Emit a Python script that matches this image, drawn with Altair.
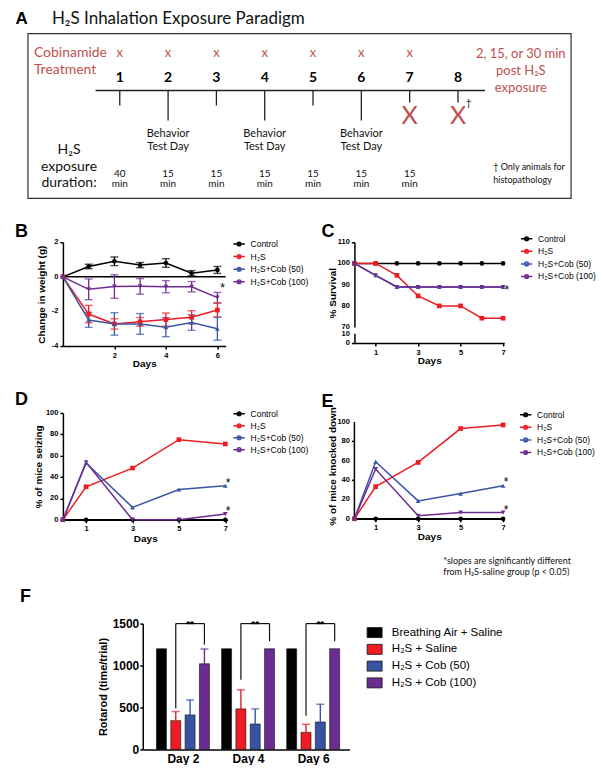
import altair as alt
import pandas as pd

# ---------------- shared series ----------------
SERIES = ["Control", "H₂S", "H₂S+Cob (50)", "H₂S+Cob (100)"]
SERIES_COLORS = ["#000000", "#ec1c24", "#3b55a5", "#6e2c90"]
SERIES_SHAPES = ["circle", "square", "triangle-up", "triangle-down"]

# ---------------- panel A (diagram) ----------------
A_TITLE = "H₂S Inhalation Exposure Paradigm"
A_DAYS = [1, 2, 3, 4, 5, 6, 7, 8]
A_COB_DAYS = [1, 2, 3, 4, 5, 6, 7]
A_BEHAVIOR_DAYS = [2, 4, 6]
A_END_DAYS = [7, 8]
A_DUR_DAYS = [1, 2, 3, 4, 5, 6, 7]
A_DURATIONS = ["40", "15", "15", "15", "15", "15", "15"]
A_LEFT_RED = ["Cobinamide", "Treatment"]
A_LEFT_BLACK = ["H₂S", "exposure", "duration:"]
A_RIGHT_RED = ["2, 15, or 30 min", "post H₂S", "exposure"]
A_NOTE = ["† Only animals for", "histopathology"]

# ---------------- panel B (weight change) ----------------
B_DAYS = [0, 1, 2, 3, 4, 5, 6]
B_CONTROL = [0, 0.60, 0.90, 0.68, 0.80, 0.21, 0.40]
B_CONTROL_ERR = [0, 0.13, 0.25, 0.15, 0.25, 0.15, 0.20]
B_H2S = [0, -2.15, -2.72, -2.60, -2.47, -2.34, -1.92]
B_H2S_ERR = [0, 0.50, 0.30, 0.25, 0.38, 0.38, 0.40]
B_COB50 = [0, -2.49, -2.72, -2.72, -2.91, -2.64, -3.00]
B_COB50_ERR = [0, 0.43, 0.65, 0.60, 0.55, 0.45, 0.66]
B_COB100 = [0, -0.72, -0.56, -0.55, -0.57, -0.57, -1.20]
B_COB100_ERR = [0, 0.60, 0.68, 0.45, 0.35, 0.30, 0.30]
B_STAR = [(6.2, -0.65)]

# ---------------- panel C (survival) ----------------
C_DAYS = [0, 1, 2, 3, 4, 5, 6, 7]
C_CONTROL = [100, 100, 100, 100, 100, 100, 100, 100]
C_H2S = [100, 100, 94.4, 84.7, 80, 80, 74.2, 74.2]
C_COB50 = [100, 94.4, 88.9, 88.9, 88.9, 88.9, 88.9, 88.9]
C_COB100 = [100, 94.4, 88.9, 88.9, 88.9, 88.9, 88.9, 88.9]
C_STAR = [(7.18, 87.5)]

# ---------------- panel D (seizing) ----------------
D_DAYS = [0, 1, 3, 5, 7]
D_CONTROL = [0, 0, 0, 0, 0]
D_H2S = [0, 30.9, 48.4, 75.0, 71.0]
D_COB50 = [0, 53.1, 11.6, 28.4, 31.9]
D_COB100 = [0, 53.8, 0, 0, 5.3]
D_STAR = [(7.12, 34.6), (7.12, 8.4)]

# ---------------- panel E (knocked down) ----------------
E_DAYS = [0, 1, 3, 5, 7]
E_CONTROL = [0, 0, 0, 0, 0]
E_H2S = [0, 33.2, 58.2, 93.2, 96.9]
E_COB50 = [0, 58.9, 18.5, 26.0, 34.2]
E_COB100 = [0, 51.4, 3.1, 6.5, 6.5]
E_STAR = [(7.14, 38.0), (7.14, 9.3)]
E_NOTE = ["*slopes are significantly  different", "from H₂S-saline group (p < 0.05)"]

# ---------------- panel F (rotarod) ----------------
F_DAY_LABELS = ["Day 2", "Day 4", "Day 6"]
F_GROUPS = ["Breathing Air + Saline", "H₂S + Saline", "H₂S + Cob (50)", "H₂S + Cob (100)"]
F_COLORS = ["#000000", "#ee1c25", "#3853a4", "#6b2c91"]
F_AIR = [1200, 1200, 1200]
F_AIR_TOP = [1200, 1200, 1200]
F_SALINE = [343, 483, 203]
F_SALINE_TOP = [451, 710, 299]
F_COB50 = [411, 303, 327]
F_COB50_TOP = [590, 483, 538]
F_COB100 = [1021, 1200, 1200]
F_COB100_TOP = [1197, 1200, 1200]
F_BRACKET_TOP = [1500, 1500, 1500]
F_BRACKET_LEFT_END = [490, 830, 400]
F_BRACKET_RIGHT_END = [1250, 1290, 1290]
F_SIG = ["**", "**", "**"]

# =====================================================================
LINE_SYMBOL = "M-1,0H1M-0.32,0A0.32,0.32,0,1,0,0.32,0A0.32,0.32,0,1,0,-0.32,0"
AXIS_FONT = "Liberation Sans"
DIAG_FONT = "Lato"
RED_A = "#c0504d"
ONE = pd.DataFrame({"k": [0]})
CODES = [0, 1, 2, 3]   # marker / error-bar keys (kept apart from the legend's domain)

# grid columns (page-pixel widths): gutter, left panel, gap, right panel
COL0, COL1, COL2, COL3 = 35, 165, 127, 150


def letter(txt, dx, dy):
    return alt.Chart(ONE).mark_text(
        text=txt, align="left", baseline="middle", font=AXIS_FONT,
        fontWeight="bold", fontSize=18, color="#000"
    ).encode(x=alt.value(dx), y=alt.value(dy))


def spacer(w, h):
    return alt.Chart(ONE).mark_point(opacity=0).properties(width=w, height=h)


# ---------------- panel A ----------------
A_W, A_H = 544, 165
A_XDOM = [-0.9, 10.34]
A_YDOM = [0, 165]
ROW = dict(title=-15, cob=19, day=44, line=57, short=72, long=87, end=69,
           bigx=83, dag=70, beh1=101, beh2=114, lab1=117, lab2=134, lab3=150,
           dur1=141, dur2=151, r1=20, r2=37, r3=54, n1=134, n2=147)
LEFT_RED_COL = -0.777
LEFT_COL = -0.05
RIGHT_COL = 9.3
NOTE_COL = 8.73


def A_enc():
    return dict(
        x=alt.X("x:Q", scale=alt.Scale(domain=A_XDOM, range=[0, A_W], nice=False, zero=False), axis=None),
        y=alt.Y("y:Q", scale=alt.Scale(domain=A_YDOM, reverse=True, nice=False, zero=False), axis=None),
    )


def A_text(xs, ys, texts, **mk):
    df = pd.DataFrame({"x": xs, "y": ys, "t": texts})
    base = dict(baseline="middle", align="center", font=DIAG_FONT, color="#111")
    base.update(mk)
    return alt.Chart(df).mark_text(**base).encode(text="t:N", **A_enc())


def tick_end(d):
    if d in A_END_DAYS:
        return ROW["end"]
    if d in A_BEHAVIOR_DAYS:
        return ROW["long"]
    return ROW["short"]


a_layers = [
    alt.Chart(ONE).mark_rect(fillOpacity=0, stroke="#333", strokeWidth=1.2).encode(
        x=alt.value(0), x2=alt.value(A_W), y=alt.value(0), y2=alt.value(A_H)),
    A_text([-1.16], [ROW["title"]], ["A"], align="left", font=AXIS_FONT, fontWeight="bold", fontSize=17, color="#000"),
    A_text([-0.405], [ROW["title"]], [A_TITLE], align="left", fontSize=17, color="#111"),
    A_text(A_COB_DAYS, [ROW["cob"]] * len(A_COB_DAYS), ["x"] * len(A_COB_DAYS), fontSize=13, color=RED_A),
    A_text(A_DAYS, [ROW["day"]] * len(A_DAYS), [str(d) for d in A_DAYS], fontSize=14, fontWeight="bold", color="#000"),
    alt.Chart(pd.DataFrame({"x": [0.5], "x2": [8.56], "y": [ROW["line"]]})).mark_rule(
        strokeWidth=1.5, color="#222").encode(x2="x2:Q", **A_enc()),
    alt.Chart(pd.DataFrame({"x": A_DAYS, "y": [ROW["line"]] * len(A_DAYS),
                            "y2": [tick_end(d) for d in A_DAYS]})).mark_rule(
        strokeWidth=1.3, color="#222").encode(y2="y2:Q", **A_enc()),
    A_text(A_END_DAYS, [ROW["bigx"]] * len(A_END_DAYS), ["X"] * len(A_END_DAYS), fontSize=25, color=RED_A),
    A_text([8.22], [ROW["dag"]], ["†"], fontSize=10, color="#111"),
    A_text(A_BEHAVIOR_DAYS, [ROW["beh1"]] * 3, ["Behavior"] * 3, fontSize=11),
    A_text(A_BEHAVIOR_DAYS, [ROW["beh2"]] * 3, ["Test Day"] * 3, fontSize=11),
    A_text([LEFT_RED_COL] * 2, [ROW["cob"], ROW["cob"] + 17], A_LEFT_RED, fontSize=14, color=RED_A, align="left"),
    A_text([LEFT_COL] * 3, [ROW["lab1"], ROW["lab2"], ROW["lab3"]], A_LEFT_BLACK, fontSize=14),
    A_text(A_DUR_DAYS, [ROW["dur1"]] * 7, A_DURATIONS, fontSize=10),
    A_text(A_DUR_DAYS, [ROW["dur2"]] * 7, ["min"] * 7, fontSize=10),
    A_text([RIGHT_COL] * 3, [ROW["r1"], ROW["r2"], ROW["r3"]], A_RIGHT_RED, fontSize=13, color=RED_A),
    A_text([NOTE_COL] * 2, [ROW["n1"], ROW["n2"]], A_NOTE, fontSize=9, align="left"),
]
# the panel sits in the narrow gutter column; its scale range spans the full box
panelA = alt.layer(*a_layers).properties(width=COL0, height=A_H)


# ---------------- line panels ----------------
def series_df(days, lists, errs=None):
    rows = []
    for si, (s, vals) in enumerate(zip(SERIES, lists)):
        for i, (d, v) in enumerate(zip(days, vals)):
            r = {"day": d, "value": v, "series": s, "mk": CODES[si]}
            if errs is not None:
                e = errs[si][i]
                r["lo"] = v - e
                r["hi"] = v + e
                r["err"] = e
            rows.append(r)
    return pd.DataFrame(rows)


def series_legend(lx, ly, rowpad):
    return alt.Legend(title=None, orient="none", legendX=lx, legendY=ly,
                      symbolType=LINE_SYMBOL, symbolSize=130, symbolStrokeWidth=1.5,
                      labelFont=AXIS_FONT, labelFontSize=8.5, labelFontWeight="normal",
                      labelOffset=5, rowPadding=rowpad, padding=0, labelColor="#000")


def code_scale(rng):
    return alt.Scale(domain=CODES, range=rng)


def line_panel(df, width, height, xdom, ydom, xvals, yvals, ytitle, ytitle_pad, xtitle_pad,
               legend, stars, letter_layer, yrange=None, ydomain_line=True, before=(), after=()):
    xs = alt.Scale(domain=xdom, nice=False, zero=False)
    ys_kw = dict(domain=ydom, nice=False, zero=False)
    if yrange is not None:
        ys_kw["range"] = yrange
    ys = alt.Scale(**ys_kw)
    xaxis = alt.Axis(values=xvals, format="d", title="Days", labelFontSize=7.5, titleFontSize=10,
                     titlePadding=xtitle_pad, tickSize=3, labelPadding=2, labelOverlap=False)
    yaxis = alt.Axis(values=yvals, title=ytitle, labels=False, titleFontSize=10,
                     titlePadding=ytitle_pad, tickSize=3, domain=ydomain_line)

    def X(f="day"):
        return alt.X(f"{f}:Q", scale=xs, axis=xaxis)

    def Y(f="value"):
        return alt.Y(f"{f}:Q", scale=ys, axis=yaxis)

    cscale = alt.Scale(domain=SERIES, range=SERIES_COLORS)
    line = alt.Chart(df).mark_line(strokeWidth=1.5).encode(
        x=X(), y=Y(), color=alt.Color("series:N", scale=cscale, legend=legend))
    pts = alt.Chart(df).mark_point(filled=True, size=22, opacity=1).encode(
        x=X(), y=Y(),
        fill=alt.Fill("mk:O", scale=code_scale(SERIES_COLORS), legend=None),
        shape=alt.Shape("mk:O", scale=code_scale(SERIES_SHAPES), legend=None))
    sdf = pd.DataFrame({"day": [s[0] for s in stars], "value": [s[1] for s in stars], "t": ["*"] * len(stars)})
    star = alt.Chart(sdf).mark_text(font=AXIS_FONT, fontSize=12, baseline="middle", align="center",
                                    color="#000").encode(x=X(), y=Y(), text="t:N")
    ldf = pd.DataFrame({"value": yvals, "lab": [str(v) for v in yvals]})
    ylabels = alt.Chart(ldf).mark_text(font=AXIS_FONT, fontWeight="bold", fontSize=7.5, align="right",
                                       baseline="middle", color="#000").encode(
        x=alt.value(-4.5), y=Y(), text="lab:N")
    built_before = [f(X, Y) for f in before]
    built_after = [f(X, Y) for f in after]
    return alt.layer(*built_before, line, pts, star, ylabels, *built_after, letter_layer).properties(
        width=width, height=height)


# Panel B
dfB = series_df(B_DAYS, [B_CONTROL, B_H2S, B_COB50, B_COB100],
                [B_CONTROL_ERR, B_H2S_ERR, B_COB50_ERR, B_COB100_ERR])
dfB_err = dfB[dfB["err"] > 0]


def b_zero(X, Y):
    return alt.Chart(ONE).mark_rule(color="#000", strokeWidth=1.5).encode(y=alt.datum(0))


def b_err_rule(X, Y):
    return alt.Chart(dfB_err).mark_rule(strokeWidth=1.3).encode(
        x=X(), y=Y("lo"), y2="hi:Q",
        stroke=alt.Stroke("mk:O", scale=code_scale(SERIES_COLORS), legend=None))


def b_err_caps(col):
    def f(X, Y):
        return alt.Chart(dfB_err).mark_tick(orient="horizontal", size=8, thickness=1.4).encode(
            x=X(), y=Y(col),
            fill=alt.Fill("mk:O", scale=code_scale(SERIES_COLORS), legend=None))
    return f


panelB = line_panel(dfB, 163, 104, [0, 6.32], [-4, 2], [2, 4, 6], [-4, -2, 0, 2],
                    "Change in weight (g)", 13, 0, series_legend(170, -4.7, 0.6), B_STAR,
                    letter("B", -48, -10),
                    before=[b_zero, b_err_rule, b_err_caps("lo"), b_err_caps("hi")])

# Panel C
dfC = series_df(C_DAYS, [C_CONTROL, C_H2S, C_COB50, C_COB100])


def c_break(X, Y):
    return alt.Chart(ONE).mark_rule(color="#ffffff", strokeWidth=4).encode(
        x=alt.datum(0), y=alt.datum(13), y2=alt.datum(67))


panelC = line_panel(dfC, 150, 101, [0, 7.05], [0, 10, 70, 110], [1, 3, 5, 7],
                    [0, 10, 70, 80, 90, 100, 110], "% Survival", 13, 0,
                    series_legend(166, -10, 0.6), C_STAR, letter("C", -33, -10),
                    yrange=[101, 92, 85, 0], after=[c_break])

# Panel D
dfD = series_df(D_DAYS, [D_CONTROL, D_H2S, D_COB50, D_COB100])
panelD = line_panel(dfD, 165, 107, [0, 7.1], [0, 100], [1, 3, 5, 7], [0, 20, 40, 60, 80, 100],
                    "% of mice seizing", 16, 1, series_legend(170, -5.7, 0), D_STAR,
                    letter("D", -48, -13))

# Panel E
dfE = series_df(E_DAYS, [E_CONTROL, E_H2S, E_COB50, E_COB100])


def e_axisline(X, Y):
    return alt.Chart(ONE).mark_rule(color="#000", strokeWidth=1.5).encode(
        x=alt.datum(0), y=alt.datum(0), y2=alt.datum(100))


def e_note(X, Y):
    return alt.layer(
        alt.Chart(ONE).mark_text(text=E_NOTE[0], align="left", baseline="middle", font=DIAG_FONT,
                                 fontSize=9, color="#111").encode(x=alt.value(89), y=alt.value(148)),
        alt.Chart(ONE).mark_text(text=E_NOTE[1], align="left", baseline="middle", font=DIAG_FONT,
                                 fontSize=9, color="#111").encode(x=alt.value(89), y=alt.value(159)),
    )


panelE = line_panel(dfE, 150, 106, [0, 7.05], [0, 109.3], [1, 3, 5, 7], [0, 20, 40, 60, 80, 100],
                    "% of mice knocked down", 13, 0.5, series_legend(165, -4.7, 0.6), E_STAR,
                    letter("E", -33, -11), ydomain_line=False, before=[e_axisline], after=[e_note])

# ---------------- panel F ----------------
F_SHIFT = 80          # plot starts this far right of the left-panel column
F_W = 207
F_OFF = [-0.33, -0.11, 0.11, 0.33]
f_means = [F_AIR, F_SALINE, F_COB50, F_COB100]
f_tops = [F_AIR_TOP, F_SALINE_TOP, F_COB50_TOP, F_COB100_TOP]
f_rows = []
for gi, g in enumerate(F_GROUPS):
    for di in range(len(F_DAY_LABELS)):
        f_rows.append({"pos": di + F_OFF[gi], "group": g, "gk": CODES[gi],
                       "value": f_means[gi][di], "top": f_tops[gi][di]})
dfF = pd.DataFrame(f_rows)
dfF_err = dfF[dfF["top"] > dfF["value"] + 1]
dfBr = pd.DataFrame({
    "xl": [i + F_OFF[1] for i in range(3)],
    "xr": [i + F_OFF[3] for i in range(3)],
    "xm": [i + (F_OFF[1] + F_OFF[3]) / 2 for i in range(3)],
    "ytop": F_BRACKET_TOP, "yl": F_BRACKET_LEFT_END, "yr": F_BRACKET_RIGHT_END, "t": F_SIG,
})

fxs = alt.Scale(domain=[-0.54, 2.48], range=[F_SHIFT, F_SHIFT + F_W], nice=False, zero=False)
fys = alt.Scale(domain=[0, 1500], nice=False, zero=False)
label_list = "[" + ",".join(f"'{s}'" for s in F_DAY_LABELS) + "]"
fxaxis = alt.Axis(values=[0, 1, 2], labelExpr=f"{label_list}[datum.value]", title=None,
                  tickSize=0, labelPadding=4, labelFontSize=12, labelOverlap=False, labelFlush=False)
fyaxis = alt.Axis(values=[0, 500, 1000, 1500], format="d", title="Rotarod (time/trial)", labelFontSize=12,
                  titleFontSize=11, titlePadding=4, tickSize=3, labelPadding=1, offset=-F_SHIFT,
                  labelOverlap=False, labelFlush=False)


def FX(f):
    return alt.X(f"{f}:Q", scale=fxs, axis=fxaxis)


def FY(f):
    return alt.Y(f"{f}:Q", scale=fys, axis=fyaxis)


fcol = alt.Scale(domain=F_GROUPS, range=F_COLORS)
f_bars = alt.Chart(dfF).mark_bar(size=10, stroke="#111", strokeWidth=0.6).encode(
    x=FX("pos"), y=FY("value"),
    color=alt.Color("group:N", scale=fcol, legend=alt.Legend(
        title=None, orient="none", legendX=F_SHIFT + 226.5, legendY=3.25, symbolType="M-1.5,-1H1.5V1H-1.5Z",
        symbolSize=100, symbolStrokeWidth=0.8, symbolStrokeColor="#111", labelFont=AXIS_FONT,
        labelFontSize=11.5, labelOffset=11.5, rowPadding=2.8, padding=0, labelColor="#000")))
f_err = alt.Chart(dfF_err).mark_rule(strokeWidth=1.4).encode(
    x=FX("pos"), y=FY("value"), y2="top:Q",
    stroke=alt.Stroke("gk:O", scale=code_scale(F_COLORS), legend=None))
f_cap = alt.Chart(dfF_err).mark_tick(orient="horizontal", size=8, thickness=1.5).encode(
    x=FX("pos"), y=FY("top"),
    fill=alt.Fill("gk:O", scale=code_scale(F_COLORS), legend=None))
f_br_top = alt.Chart(dfBr).mark_rule(color="#111", strokeWidth=1.2).encode(
    x=FX("xl"), x2="xr:Q", y=FY("ytop"))
f_br_l = alt.Chart(dfBr).mark_rule(color="#111", strokeWidth=1.2).encode(
    x=FX("xl"), y=FY("yl"), y2="ytop:Q")
f_br_r = alt.Chart(dfBr).mark_rule(color="#111", strokeWidth=1.2).encode(
    x=FX("xr"), y=FY("yr"), y2="ytop:Q")
f_sig = alt.Chart(dfBr).mark_text(font=AXIS_FONT, fontWeight="bold", fontSize=10, baseline="alphabetic",
                                  dy=3, color="#000").encode(x=FX("xm"), y=FY("ytop"), text="t:N")
panelF = alt.layer(f_bars, f_err, f_cap, f_br_top, f_br_l, f_br_r, f_sig,
                   letter("F", F_SHIFT - 123, -27)).properties(width=COL1, height=126)

# ---------------- assemble (4-column grid, flush bounds) ----------------
s1 = lambda: spacer(1, 1)
items = [
    panelA, s1(), s1(), s1(),
    spacer(1, 44), s1(), s1(), s1(),
    spacer(COL0, 1), panelB, spacer(COL2, 1), panelC,
    spacer(1, 67), s1(), s1(), s1(),
    spacer(COL0, 1), panelD, spacer(COL2, 1), panelE,
    spacer(1, 104), s1(), s1(), s1(),
    spacer(COL0, 1), panelF, s1(), s1(),
]

chart = alt.concat(
    *items, columns=4, spacing=0, bounds="flush", align="each"
).resolve_scale(
    x="independent", y="independent", color="independent", fill="independent",
    shape="independent", stroke="independent"
).resolve_legend(
    color="independent", fill="independent", shape="independent", stroke="independent"
).properties(
    padding={"left": 7, "top": 1, "right": 0, "bottom": 0}
).configure_view(stroke=None).configure_axis(
    labelFont=AXIS_FONT, titleFont=AXIS_FONT, labelFontWeight="bold", titleFontWeight="bold",
    labelColor="#000", titleColor="#000", domainColor="#000", tickColor="#000",
    domainWidth=1.5, tickWidth=1.5, grid=False
).configure_legend(padding=0)

chart.save("out.html", embed_options={"renderer": "svg", "actions": False})
